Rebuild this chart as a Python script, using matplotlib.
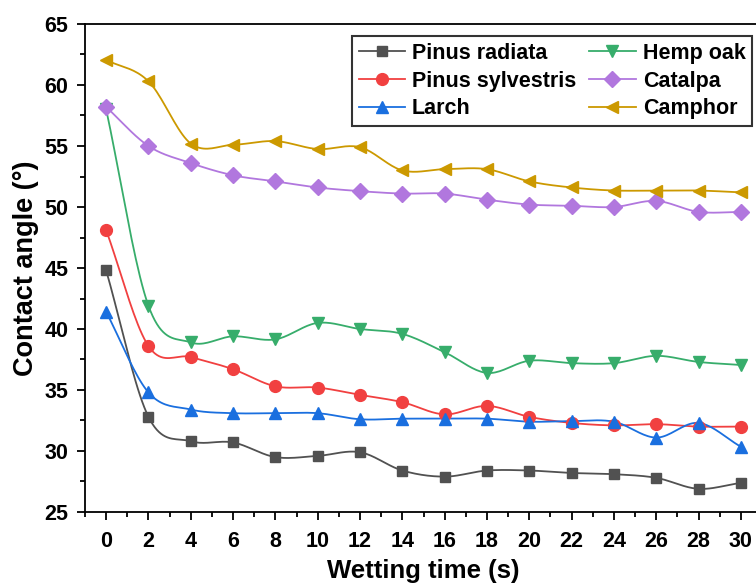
import numpy as np
from matplotlib import pyplot as plt
from matplotlib.ticker import MultipleLocator

# Data
time = [0, 2, 4, 6, 8, 10, 12, 14, 16, 18, 20, 22, 24, 26, 28, 30]

pinus_radiata = [44.8, 32.8, 30.8, 30.7, 29.5, 29.6, 29.9, 28.4, 27.9, 28.4,
                 28.4, 28.2, 28.1, 27.8, 26.9, 27.4]
pinus_sylvestris = [48.1, 38.6, 37.7, 36.7, 35.3, 35.2, 34.6, 34.0, 33.0, 33.7,
                    32.8, 32.3, 32.1, 32.2, 32.0, 32.0]
larch = [41.4, 34.8, 33.4, 33.1, 33.1, 33.1, 32.6, 32.65, 32.65, 32.65,
         32.4, 32.45, 32.4, 31.1, 32.3, 30.35]
hemp_oak = [58.0, 41.9, 38.9, 39.4, 39.15, 40.5, 40.0, 39.6, 38.1, 36.4,
            37.4, 37.2, 37.2, 37.8, 37.3, 37.05]
catalpa = [58.2, 55.0, 53.6, 52.6, 52.1, 51.6, 51.3, 51.1, 51.1, 50.6,
           50.2, 50.1, 50.0, 50.5, 49.6, 49.6]
camphor = [62.05, 60.3, 55.2, 55.1, 55.4, 54.75, 54.9, 53.0, 53.1, 53.1,
           52.1, 51.6, 51.35, 51.35, 51.35, 51.2]

names = ['Pinus radiata', 'Pinus sylvestris', 'Larch', 'Hemp oak', 'Catalpa', 'Camphor']
series = [pinus_radiata, pinus_sylvestris, larch, hemp_oak, catalpa, camphor]
colors = ['#515151', '#F14040', '#1A6FDF', '#37AD6B', '#B177DE', '#CC9900']
markers = ['s', 'o', '^', 'v', 'D', '<']
msizes = [7.5, 8.5, 9, 9, 8, 9]


def smooth(x, y, n=20):
    # cubic hermite curve through the points, just for drawing the line
    x = np.asarray(x, float)
    y = np.asarray(y, float)
    m = np.gradient(y, x)
    xs, ys = [], []
    for i in range(len(x) - 1):
        h = x[i + 1] - x[i]
        t = np.linspace(0, 1, n, endpoint=False)
        h00 = 2*t**3 - 3*t**2 + 1
        h10 = t**3 - 2*t**2 + t
        h01 = -2*t**3 + 3*t**2
        h11 = t**3 - t**2
        xs.append(x[i] + t*h)
        ys.append(h00*y[i] + h10*h*m[i] + h01*y[i + 1] + h11*h*m[i + 1])
    xs.append([x[-1]])
    ys.append([y[-1]])
    return np.concatenate(xs), np.concatenate(ys)


plt.rcParams['font.family'] = 'Liberation Sans'
plt.rcParams['font.weight'] = 'bold'

fig = plt.figure(figsize=(7.56, 5.85), dpi=100)
ax = fig.add_axes([85/756, 1 - 512/585, 677/756, 488/585])

for name, vals, c, mk, ms in zip(names, series, colors, markers, msizes):
    xs, ys = smooth(time, vals)
    ax.plot(xs, ys, color=c, linewidth=1.3, zorder=2)
    ax.plot(time, vals, linestyle='none', marker=mk, markersize=ms, color=c, zorder=3)
    ax.plot([], [], color=c, linewidth=1.3, marker=mk, markersize=ms, label=name)

ax.set_xlim(-1, 31)
ax.set_ylim(25, 65)
ax.xaxis.set_major_locator(MultipleLocator(2))
ax.xaxis.set_minor_locator(MultipleLocator(1))
ax.yaxis.set_major_locator(MultipleLocator(5))
ax.yaxis.set_minor_locator(MultipleLocator(2.5))

ax.tick_params(which='both', direction='out', width=1.3, labelsize=15.5,
               top=False, right=False)
ax.tick_params(which='major', length=6)
ax.tick_params(axis='x', which='major', pad=8)
ax.tick_params(axis='y', which='major', pad=6)
ax.tick_params(which='minor', length=3.5)
for sp in ax.spines.values():
    sp.set_linewidth(1.3)
ax.spines['right'].set_visible(False)

ax.set_xlabel('Wetting time (s)', fontsize=18.5, fontweight='bold', labelpad=5)
ax.set_ylabel('Contact angle (°)', fontsize=19.5, fontweight='bold', labelpad=4)

leg = ax.legend(ncol=2, loc='upper right', bbox_to_anchor=(667/677, 0.975),
                fontsize=15.5, frameon=True, fancybox=False, edgecolor='black',
                handlelength=2.15, labelspacing=0.32, columnspacing=0.6,
                handletextpad=0.33, borderpad=0.3, borderaxespad=0)
leg.get_frame().set_linewidth(1.5)

fig.savefig('out.png', dpi=100)
